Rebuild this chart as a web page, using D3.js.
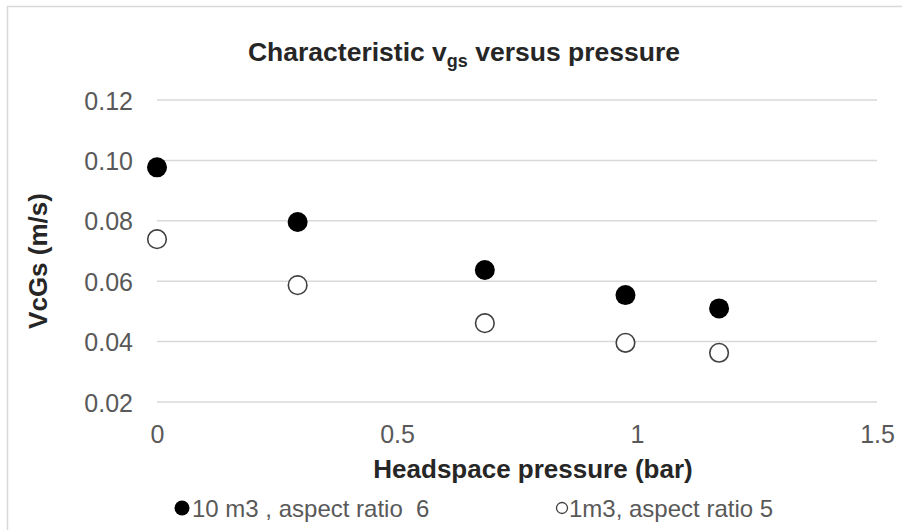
<!DOCTYPE html>
<html>
<head>
<meta charset="utf-8">
<script src="https://cdn.jsdelivr.net/npm/d3@7"></script>
<style>
  html, body { margin: 0; padding: 0; background: #fff; }
  svg { display: block; font-family: "Liberation Sans", Arial, sans-serif; }
  .pre { white-space: pre; }
</style>
</head>
<body>
<svg id="chart" width="902" height="530"></svg>
<script>
// ---- data ----
const pressure = [0, 0.293, 0.683, 0.976, 1.171];
const series10m3 = [0.0977, 0.0796, 0.0637, 0.0554, 0.0510];
const series1m3 = [0.0739, 0.0587, 0.0461, 0.0396, 0.0363];
const xTicks = [0, 0.5, 1, 1.5];
const yTicks = [0.02, 0.04, 0.06, 0.08, 0.10, 0.12];
const seriesNames = ["10 m3 , aspect ratio  6", "1m3, aspect ratio 5"];

const svg = d3.select("#chart");

// chart border (Excel chart area)
svg.append("path")
  .attr("d", "M7.5,540 L7.5,6.5 L910,6.5")
  .attr("fill", "none").attr("stroke", "#d9d9d9").attr("stroke-width", 1.5);

const x = d3.scaleLinear().domain([0, 1.5]).range([157, 877]);
const y = d3.scaleLinear().domain([0.02, 0.12]).range([402, 100]);

// gridlines
svg.append("g").selectAll("line").data(yTicks).join("line")
  .attr("x1", x(0)).attr("x2", x(1.5))
  .attr("y1", d => y(d)).attr("y2", d => y(d))
  .attr("stroke", "#d9d9d9").attr("stroke-width", 1.5);

// y axis labels
const yAxis = d3.axisLeft(y).tickValues(yTicks).tickFormat(d3.format(".2f")).tickSize(0).tickPadding(0);
const gy = svg.append("g").attr("transform", "translate(133,0)").call(yAxis);
gy.select(".domain").remove();
gy.selectAll("text").attr("font-size", 25).attr("fill", "#595959")
  .attr("font-family", "Liberation Sans, Arial, sans-serif").attr("dy", "0.36em");

// x axis labels
const xAxis = d3.axisBottom(x).tickValues(xTicks).tickFormat(d => d3.format("")(d)).tickSize(0).tickPadding(0);
const gx = svg.append("g").attr("transform", "translate(0,425)").call(xAxis);
gx.select(".domain").remove();
gx.selectAll("text").attr("font-size", 25).attr("fill", "#595959")
  .attr("font-family", "Liberation Sans, Arial, sans-serif").attr("dy", "0.71em");

// title
const title = svg.append("text").attr("x", 464).attr("y", 61)
  .attr("text-anchor", "middle").attr("font-size", 26.5).attr("font-weight", "bold").attr("fill", "#262626");
title.append("tspan").text("Characteristic v");
title.append("tspan").attr("font-size", 18).attr("dy", 6).text("gs");
title.append("tspan").attr("dy", -6).text(" versus pressure");

// axis titles
svg.append("text").attr("x", 533).attr("y", 478).attr("text-anchor", "middle")
  .attr("font-size", 26).attr("font-weight", "bold").attr("fill", "#262626")
  .text("Headspace pressure (bar)");
svg.append("text").attr("transform", "translate(47,261) rotate(-90)").attr("text-anchor", "middle")
  .attr("font-size", 26).attr("font-weight", "bold").attr("fill", "#262626")
  .text("VcGs (m/s)");

// points
const d10 = pressure.map((p, i) => ({ p, v: series10m3[i] }));
const d1 = pressure.map((p, i) => ({ p, v: series1m3[i] }));

svg.append("g").selectAll("circle").data(d1).join("circle")
  .attr("cx", d => x(d.p)).attr("cy", d => y(d.v)).attr("r", 9.3)
  .attr("fill", "#fff").attr("stroke", "#404040").attr("stroke-width", 1.6);
svg.append("g").selectAll("circle").data(d10).join("circle")
  .attr("cx", d => x(d.p)).attr("cy", d => y(d.v)).attr("r", 10)
  .attr("fill", "#000");

// legend
const leg = svg.append("g");
leg.append("circle").attr("cx", 182).attr("cy", 508).attr("r", 7.5).attr("fill", "#000");
leg.append("text").attr("class", "pre").attr("x", 192).attr("y", 517).attr("font-size", 24).attr("fill", "#595959").text(seriesNames[0]);
leg.append("circle").attr("cx", 562).attr("cy", 508).attr("r", 5.5).attr("fill", "#fff")
  .attr("stroke", "#404040").attr("stroke-width", 1.3);
leg.append("text").attr("class", "pre").attr("x", 569).attr("y", 517).attr("font-size", 24).attr("fill", "#595959").text(seriesNames[1]);
</script>
</body>
</html>
